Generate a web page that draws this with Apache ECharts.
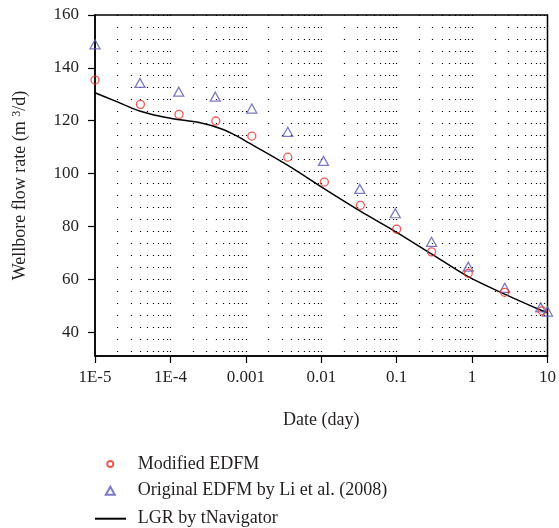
<!DOCTYPE html>
<html>
<head>
<meta charset="utf-8">
<script src="https://cdn.jsdelivr.net/npm/echarts@6/dist/echarts.min.js"></script>
<style>html,body{margin:0;padding:0;background:#fff;}#c{width:559px;height:528px;}</style>
</head>
<body>
<div id="c"></div>
<script>
// ---- data ----
var modifiedX = [1e-5, 4e-5, 1.3e-4, 4e-4, 1.2e-3, 3.6e-3, 0.011, 0.033, 0.1, 0.29, 0.89, 2.7, 8.5];
var modifiedY = [135.4, 126.2, 122.4, 119.9, 114.2, 106.2, 96.8, 88.0, 79.0, 70.4, 62.3, 55.1, 48.1];
var originalX = [1e-5, 3.95e-5, 1.29e-4, 3.93e-4, 1.2e-3, 3.6e-3, 0.0107, 0.0325, 0.0958, 0.29, 0.89, 2.71, 8.1, 10];
var originalY = [148.9, 134.3, 131.0, 129.1, 124.6, 115.8, 104.8, 94.2, 85.0, 74.2, 64.8, 56.8, 49.4, 47.8];
var lgrX = [1e-5, 1.8e-5, 3.9e-5, 1e-4, 2.4e-4, 4.9e-4, 8.1e-4, 1.1e-3, 3.7e-3, 0.01, 0.033, 0.1, 0.29, 0.9, 2.7, 8.5, 10];
var lgrY = [130.6, 127.6, 123.7, 120.9, 119.3, 116.8, 113.8, 111.6, 102.9, 95.0, 85.8, 77.8, 69.6, 60.9, 54.4, 48.1, 47.4];
var xTickLabels = ['1E-5', '1E-4', '0.001', '0.01', '0.1', '1', '10'];
var yTicks = [40, 60, 80, 100, 120, 140, 160];
var seriesNames = ['Modified EDFM', 'Original EDFM by Li et al. (2008)', 'LGR by tNavigator'];

function zip(xs, ys) { return xs.map(function (x, i) { return [x, ys[i]]; }); }

// minor log grid positions (2..9 per decade plus inner decades)
var minorGrid = [];
for (var e = -5; e < 1; e++) {
  for (var m = 1; m <= 9; m++) {
    if (m === 1 && e === -5) continue;
    minorGrid.push(m * Math.pow(10, e));
  }
}

var FONT = 'Liberation Serif';
var TXT = '#231f20';
function legendCfg(name, left, top, w, h, pad) {
  return {
    orient: 'vertical', left: left, top: top, padding: 0,
    itemWidth: w, itemHeight: h, itemGap: 0,
    textStyle: {fontFamily: FONT, fontSize: 18, color: TXT, lineHeight: 20, padding: [0, 0, 0, pad]},
    data: [name]
  };
}
var chart = echarts.init(document.getElementById('c'), null, {renderer: 'canvas'});
chart.setOption({
  animation: false,
  backgroundColor: '#fff',
  textStyle: {fontFamily: FONT},
  grid: {left: 95, top: 15, right: 8.5, bottom: 172, show: true, borderColor: '#000', borderWidth: 1.5, backgroundColor: 'transparent'},
  legend: [
    legendCfg(seriesNames[0], 106.3, 454, 6, 6, 19.5),
    legendCfg(seriesNames[1], 104.8, 480.7, 9, 8, 18),
    legendCfg(seriesNames[2], 94, 508.7, 31, 8, 6.8)
  ],
  xAxis: [{
    type: 'log', logBase: 10, min: 1e-5, max: 10, interval: 1,
    name: 'Date (day)', nameLocation: 'middle', nameGap: 55,
    nameTextStyle: {fontFamily: FONT, fontSize: 18, color: TXT},
    axisLine: {show: true, lineStyle: {color: '#000', width: 1.5}},
    axisTick: {show: true, inside: false, length: 7, lineStyle: {color: '#000', width: 1.2}},
    axisLabel: {
      margin: 13, fontFamily: FONT, fontSize: 17, color: TXT,
      formatter: function (v) { var k = Math.round(Math.log10(v)) + 5; return xTickLabels[k] || ''; }
    },
    splitLine: {show: false}
  }, {
    type: 'log', logBase: 10, min: 1e-5, max: 10, position: 'bottom',
    axisLine: {show: false}, axisLabel: {show: false},
    axisTick: {show: false, customValues: minorGrid},
    splitLine: {show: true, lineStyle: {color: '#000', width: 1.2, type: [1, 11]}}
  }],
  yAxis: {
    type: 'value', min: 31, max: 160,
    name: 'Wellbore flow rate (m {sup|3}/d)', nameLocation: 'middle', nameGap: 65, nameRotate: 90,
    nameTextStyle: {fontFamily: FONT, fontSize: 18, color: TXT,
      rich: {sup: {fontFamily: FONT, fontSize: 12, color: TXT, verticalAlign: 'top', padding: [0, 0, 7, 0]}}},
    axisLine: {show: true, lineStyle: {color: '#000', width: 1.5}},
    axisTick: {show: true, inside: false, length: 7, lineStyle: {color: '#000', width: 1.2}, customValues: yTicks},
    axisLabel: {margin: 16, fontFamily: FONT, fontSize: 17, color: TXT, customValues: yTicks},
    splitLine: {show: false}
  },
  series: [{
    name: seriesNames[0], type: 'scatter', xAxisIndex: 0,
    symbol: 'circle', symbolSize: 8,
    itemStyle: {color: 'rgba(255,255,255,0)', borderColor: '#e8322d', borderWidth: 1.3},
    data: zip(modifiedX, modifiedY), z: 4
  }, {
    name: seriesNames[1], type: 'scatter', xAxisIndex: 0,
    symbol: 'triangle', symbolSize: [10, 9],
    itemStyle: {color: 'rgba(255,255,255,0)', borderColor: '#5a5ab4', borderWidth: 1.3},
    data: zip(originalX, originalY), z: 3
  }, {
    name: seriesNames[2], type: 'line', xAxisIndex: 0,
    symbol: 'none', smooth: 0.3,
    lineStyle: {color: '#000', width: 1.5},
    itemStyle: {color: 'rgba(0,0,0,0)', opacity: 0},
    data: zip(lgrX, lgrY), z: 2
  }]
});
</script>
</body>
</html>
